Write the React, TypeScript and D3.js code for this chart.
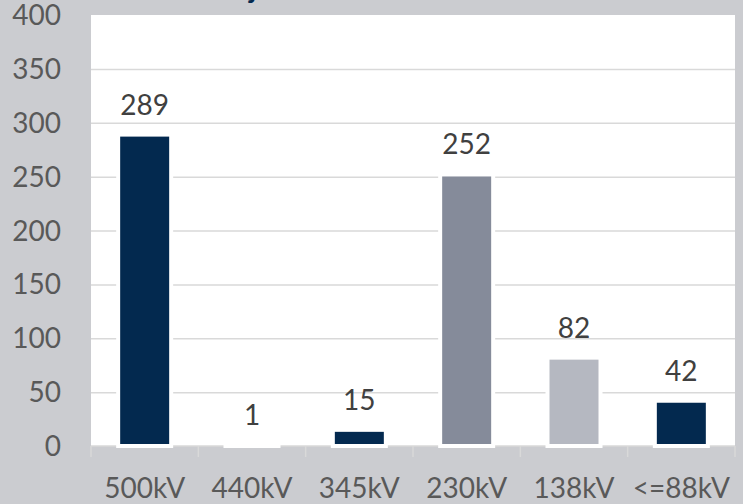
import React, { useEffect, useRef } from 'react';
import * as d3 from 'd3';

// categories and values
const categories = ['500kV', '440kV', '345kV', '230kV', '138kV', '<=88kV'];
const values = [289, 1, 15, 252, 82, 42];
const barColors = ['#03294f', '#03294f', '#03294f', '#858b9a', '#b5b8c1', '#03294f'];
const yTicks = [0, 50, 100, 150, 200, 250, 300, 350, 400];

export default function App() {
  const ref = useRef<SVGSVGElement>(null);

  useEffect(() => {
    const width = 743;
    const height = 504;
    const left = 91;
    const right = 735;
    const top = 15;
    const bottom = 446;
    const font = 'Lato, "Open Sans", sans-serif';

    const svg = d3.select(ref.current);
    svg.selectAll('*').remove();
    svg.attr('width', width).attr('height', height);

    // grey page background
    svg.append('rect').attr('width', width).attr('height', height).attr('fill', '#cbccd0');

    // clipped title (only a descender peeks in)
    svg.append('text')
      .attr('x', 206)
      .attr('y', -2)
      .attr('fill', '#03294f')
      .style('font-family', font)
      .style('font-weight', 'bold')
      .style('font-size', '28px')
      .text('Projetos');

    const x = d3.scaleBand().domain(categories).range([left, right]).paddingInner(0).paddingOuter(0);
    const y = d3.scaleLinear().domain([0, 400]).range([bottom, top]);

    // white plot area
    svg.append('rect')
      .attr('x', left)
      .attr('y', top)
      .attr('width', right - left)
      .attr('height', bottom - top)
      .attr('fill', '#ffffff');

    // gridlines
    svg.append('g')
      .selectAll('line')
      .data(yTicks.filter(t => t > 0 && t < 400))
      .enter()
      .append('line')
      .attr('x1', left)
      .attr('x2', right)
      .attr('y1', d => y(d) + 0.5)
      .attr('y2', d => y(d) + 0.5)
      .attr('stroke', '#d9d9d9')
      .attr('stroke-width', 1.5);

    // x axis line and tick marks at band edges
    svg.append('line')
      .attr('x1', left)
      .attr('x2', right)
      .attr('y1', bottom)
      .attr('y2', bottom)
      .attr('stroke', '#d9d9d9')
      .attr('stroke-width', 1.5);

    const edges = categories.map(c => x(c) as number).concat([right]);
    svg.append('g')
      .selectAll('line')
      .data(edges)
      .enter()
      .append('line')
      .attr('x1', d => d)
      .attr('x2', d => d)
      .attr('y1', bottom)
      .attr('y2', bottom + 11)
      .attr('stroke', '#d9d9d9')
      .attr('stroke-width', 1.5);

    // bars with a white edge
    const barW = 53;
    svg.append('g')
      .selectAll('rect')
      .data(values)
      .enter()
      .append('rect')
      .attr('x', (d, i) => (x(categories[i]) as number) + x.bandwidth() / 2 - barW / 2)
      .attr('y', d => y(d))
      .attr('width', barW)
      .attr('height', d => bottom - y(d))
      .attr('fill', (d, i) => barColors[i])
      .attr('stroke', '#ffffff')
      .attr('stroke-width', 4);

    // value labels
    svg.append('g')
      .selectAll('text')
      .data(values)
      .enter()
      .append('text')
      .attr('x', (d, i) => (x(categories[i]) as number) + x.bandwidth() / 2)
      .attr('y', d => y(d) - 20)
      .attr('text-anchor', 'middle')
      .attr('fill', '#404040')
      .style('font-family', font)
      .style('font-size', '28px')
      .text(d => d);

    // y tick labels
    svg.append('g')
      .selectAll('text')
      .data(yTicks)
      .enter()
      .append('text')
      .attr('x', 61)
      .attr('y', d => y(d))
      .attr('dy', '0.36em')
      .attr('text-anchor', 'end')
      .attr('fill', '#595959')
      .style('font-family', font)
      .style('font-size', '28px')
      .text(d => d);

    // category labels
    svg.append('g')
      .selectAll('text')
      .data(categories)
      .enter()
      .append('text')
      .attr('x', d => (x(d) as number) + x.bandwidth() / 2)
      .attr('y', 498)
      .attr('text-anchor', 'middle')
      .attr('fill', '#595959')
      .style('font-family', font)
      .style('font-size', '28px')
      .text(d => d);
  }, []);

  return (
    <svg ref={ref} style={{ position: 'absolute', left: 0, top: 0, display: 'block' }}></svg>
  );
}
